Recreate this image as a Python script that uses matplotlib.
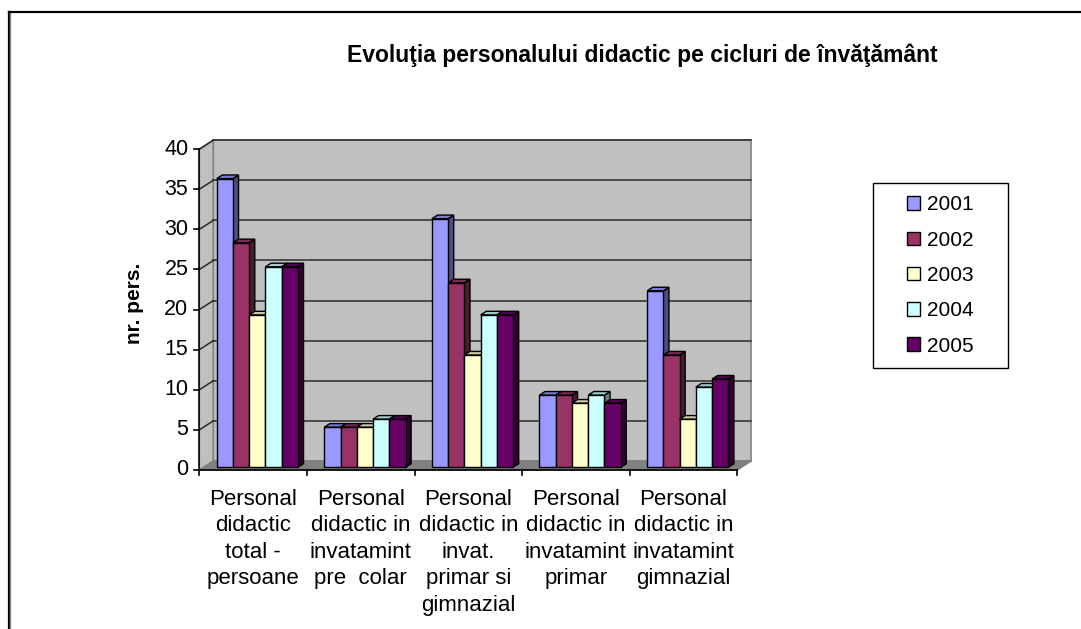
import matplotlib
matplotlib.use("Agg")
import matplotlib.pyplot as plt
from matplotlib.patches import Polygon, Rectangle, Patch
from matplotlib.lines import Line2D
import numpy as np

plt.rcParams['font.family'] = ['Liberation Sans', 'DejaVu Sans']

title = "Evoluţia personalului didactic pe cicluri de învăţământ"
ylabel = "nr. pers."
categories = [
    "Personal\ndidactic\ntotal -\npersoane",
    "Personal\ndidactic in\ninvatamint\npre  colar",
    "Personal\ndidactic in\ninvat.\nprimar si\ngimnazial",
    "Personal\ndidactic in\ninvatamint\nprimar",
    "Personal\ndidactic in\ninvatamint\ngimnazial",
]
years = ["2001", "2002", "2003", "2004", "2005"]
v2001 = [36, 5, 31, 9, 22]
v2002 = [28, 5, 23, 9, 14]
v2003 = [19, 5, 14, 8, 6]
v2004 = [25, 6, 19, 9, 10]
v2005 = [25, 6, 19, 8, 11]
series = [v2001, v2002, v2003, v2004, v2005]
colors = ["#9999FF", "#993366", "#FFFFCC", "#CCFFFF", "#660066"]
yticks = [0, 5, 10, 15, 20, 25, 30, 35, 40]

W, H = 1081, 629
fig = plt.figure(figsize=(W / 100, H / 100), dpi=100)

# pixel mapping of the plot area
x0, sx = 199.3, 107.6
y0, sy = 470.0, 8.02
xmax, ymin, ymax = 5.2, -1.0, 42.0
left = x0 / W
width = xmax * sx / W
top_px = y0 - ymax * sy
bot_px = y0 - ymin * sy
ax = fig.add_axes([left, 1 - bot_px / H, width, (bot_px - top_px) / H])
ax.set_xlim(0, xmax)
ax.set_ylim(ymin, ymax)
ax.axis("off")

n = len(categories)
ytop = yticks[-1]
dx = 14 / sx
dy = 9 / sy

# walls and floor
ax.add_patch(Polygon([(dx, dy), (n + dx, dy), (n + dx, ytop + dy), (dx, ytop + dy)],
                     closed=True, facecolor="#C0C0C0", edgecolor="#808080", lw=1.2, zorder=1))
ax.add_patch(Polygon([(0, 0), (dx, dy), (dx, ytop + dy), (0, ytop)],
                     closed=True, facecolor="#C0C0C0", edgecolor="#808080", lw=1.2, zorder=1))
ax.add_patch(Polygon([(0, 0), (n, 0), (n + dx, dy), (dx, dy)],
                     closed=True, facecolor="#808080", edgecolor="#808080", lw=1.0, zorder=1.5))

# gridlines
for v in yticks[1:]:
    ax.plot([dx, n + dx], [v + dy, v + dy], color="#2a2a2a", lw=1.1, zorder=2)
    ax.plot([0, dx], [v, v + dy], color="#2a2a2a", lw=1.1, zorder=2)

# axes lines
ax.plot([0, 0], [0, ytop], color="black", lw=1.2, zorder=3, clip_on=False)
ax.plot([0, n], [0, 0], color="black", lw=1.2, zorder=3, clip_on=False)
tl_x = 5 / sx
tl_y = 5 / sy
for v in yticks:
    ax.plot([-tl_x, 0], [v, v], color="black", lw=1.2, clip_on=False, zorder=3)
    ax.text(-11 / sx, v, str(v), ha="right", va="center", fontsize=15.5, clip_on=False)
for i in range(n + 1):
    ax.plot([i, i], [0, -tl_y], color="black", lw=1.2, clip_on=False, zorder=3)

# bars
bw = 0.151
gap = (1 - bw * len(series)) / 2
fz, bz = 0.3, 0.7
z = 4
for ci in range(n):
    for si, vals in enumerate(series):
        v = vals[ci]
        c = np.array(matplotlib.colors.to_rgb(colors[si]))
        xl = ci + gap + si * bw + fz * dx
        yb = fz * dy
        xr = xl + bw
        ddx = (bz - fz) * dx
        ddy = (bz - fz) * dy
        yt = v + yb
        ax.add_patch(Polygon([(xr, yb), (xr + ddx, yb + ddy), (xr + ddx, yt + ddy), (xr, yt)],
                             closed=True, facecolor=c * 0.5, edgecolor="black", lw=1.0, zorder=z))
        ax.add_patch(Polygon([(xl, yt), (xr, yt), (xr + ddx, yt + ddy), (xl + ddx, yt + ddy)],
                             closed=True, facecolor=c * 0.8, edgecolor="black", lw=1.0, zorder=z))
        ax.add_patch(Rectangle((xl, yb), bw, v, facecolor=c, edgecolor="black", lw=1.0, zorder=z + 0.5))
        z += 1

# category labels
for i, lab in enumerate(categories):
    ax.text(i + 0.5, -2.35, lab, ha="center", va="top", fontsize=16,
            linespacing=1.345, clip_on=False)

# y label and title
fig.text(135 / W, 1 - 303 / H, ylabel, rotation=90, ha="center", va="center",
         fontsize=15, fontweight="bold")
fig.text(642 / W, 1 - 55 / H, title, ha="center", va="center", fontsize=16.5,
         fontweight="bold")

# legend
bx0, by0, bx1, by1 = 873, 183, 1008, 368
fig.add_artist(Rectangle((bx0 / W, 1 - by1 / H), (bx1 - bx0) / W, (by1 - by0) / H,
                         transform=fig.transFigure, facecolor="white", edgecolor="black", lw=1.0))
handles = [Patch(facecolor=colors[i], edgecolor="black", lw=1.0) for i in range(len(years))]
leg = fig.legend(handles, years, loc="center",
                 bbox_to_anchor=((bx0 + bx1) / 2 / W, 1 - (by0 + by1) / 2 / H),
                 frameon=False, fontsize=15, handlelength=0.62, handleheight=0.62,
                 handletextpad=0.35, labelspacing=0.78, borderpad=0)

# outer chart border
fig.add_artist(Line2D([8.5 / W, 8.5 / W], [0, 1 - 11.5 / H], transform=fig.transFigure,
                      color="black", lw=1.6))
fig.add_artist(Line2D([10 / W, 10 / W], [0, 1 - 13 / H], transform=fig.transFigure,
                      color="#909090", lw=1.0))
fig.add_artist(Line2D([8.5 / W, 1], [1 - 11.5 / H, 1 - 11.5 / H], transform=fig.transFigure,
                      color="black", lw=1.6))

fig.savefig("out.png", dpi=100)
